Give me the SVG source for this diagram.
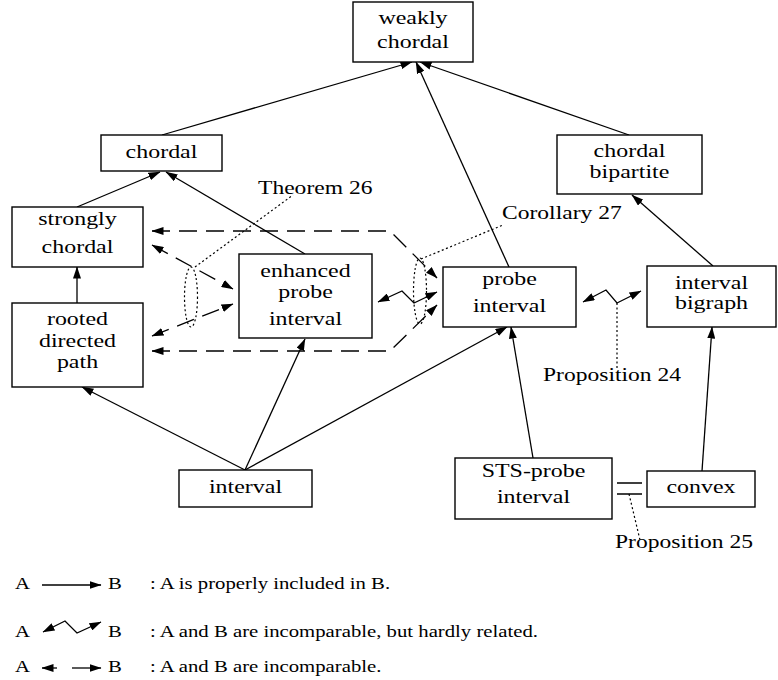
<svg xmlns="http://www.w3.org/2000/svg" width="778" height="680" viewBox="0 0 778 680">
<style>
  .box { fill: #fff; stroke: #000; stroke-width: 1.4; }
  .t { font-family: 'Liberation Serif', 'DejaVu Serif', serif; font-size: 19px; fill: #000; }
  .c { text-anchor: middle; }
  .lg { font-family: 'Liberation Serif', 'DejaVu Serif', serif; font-size: 17px; fill: #000; }
  .e { fill: none; stroke: #000; stroke-width: 1.3; }
  .arr { marker-end: url(#ah); }
  .both { marker-start: url(#ah); marker-end: url(#ah); }
  .dash { stroke-dasharray: 18 9; }
  .dot { fill: none; stroke: #000; stroke-width: 1.2; stroke-dasharray: 2 2.5; }
</style>
<defs>
  <marker id="ah" viewBox="0 0 12 8" refX="11.5" refY="4" markerWidth="12" markerHeight="8" markerUnits="userSpaceOnUse" orient="auto-start-reverse">
    <path d="M0,0 L12,4 L0,8 z" fill="#000"/>
  </marker>
</defs>
<rect width="778" height="680" fill="#fff"/>

<g id="connectors">
  <path class="e arr" d="M162,135 L412,62"/>
  <path class="e arr" d="M509,267 L416,62"/>
  <path class="e arr" d="M629,135 L420,62"/>
  <path class="e arr" d="M77,207 L160,172"/>
  <path class="e arr" d="M305,254 L166,172"/>
  <path class="e arr" d="M77,303 L77,267"/>
  <path class="e arr" d="M245,470 L82,387"/>
  <path class="e arr" d="M245,470 L305,339"/>
  <path class="e arr" d="M245,470 L507,327"/>
  <path class="e arr" d="M533,458 L511,327"/>
  <path class="e arr" d="M702,471 L712,327"/>
  <path class="e arr" d="M713,266 L632,195"/>
  <path class="e both dash" d="M152,231 L390,231 L437,278"/>
  <path class="e both dash" d="M152,351 L390,351 L437,305"/>
  <path class="e both dash" d="M152,245 L233,289"/>
  <path class="e both dash" d="M152,336 L233,304"/>
  <path class="e both" d="M378,302 L402,291 L414,303 L437,292"/>
  <path class="e both" d="M583,302 L606,290 L617,303 L641,291"/>
  <path class="e" d="M617,483 L642,483 M617,494 L642,494"/>
  <path class="dot" d="M195,267 L293,195"/>
  <ellipse class="dot" cx="191" cy="297" rx="6.5" ry="30"/>
  <path class="dot" d="M421,259 L503,225"/>
  <ellipse class="dot" cx="420" cy="291" rx="6.5" ry="33"/>
  <path class="dot" d="M617,303 L617,368"/>
  <path class="dot" d="M629,494 L640,540"/>
</g>

<g id="weakly-chordal">
  <rect class="box" x="353" y="2" width="120" height="60"/>
  <text class="t c" transform="translate(413,24) scale(1.26,1)">weakly</text>
  <text class="t c" transform="translate(413,48) scale(1.26,1)">chordal</text>
</g>
<g id="chordal">
  <rect class="box" x="101" y="135" width="121" height="36"/>
  <text class="t c" transform="translate(161.5,158) scale(1.26,1)">chordal</text>
</g>
<g id="chordal-bipartite">
  <rect class="box" x="557" y="135" width="145" height="59"/>
  <text class="t c" transform="translate(629.5,157) scale(1.26,1)">chordal</text>
  <text class="t c" transform="translate(629.5,178) scale(1.26,1)">bipartite</text>
</g>
<g id="strongly-chordal">
  <rect class="box" x="12" y="207" width="131" height="60"/>
  <text class="t c" transform="translate(77.5,225) scale(1.26,1)">strongly</text>
  <text class="t c" transform="translate(77.5,253) scale(1.26,1)">chordal</text>
</g>
<g id="rooted-directed-path">
  <rect class="box" x="12" y="303" width="131" height="84"/>
  <text class="t c" transform="translate(77.5,325) scale(1.26,1)">rooted</text>
  <text class="t c" transform="translate(77.5,347) scale(1.26,1)">directed</text>
  <text class="t c" transform="translate(77.5,368) scale(1.26,1)">path</text>
</g>
<g id="enhanced-probe-interval">
  <rect class="box" x="239" y="254" width="133" height="84"/>
  <text class="t c" transform="translate(305.5,277) scale(1.26,1)">enhanced</text>
  <text class="t c" transform="translate(305.5,298) scale(1.26,1)">probe</text>
  <text class="t c" transform="translate(305.5,325) scale(1.26,1)">interval</text>
</g>
<g id="probe-interval">
  <rect class="box" x="443" y="267" width="133" height="60"/>
  <text class="t c" transform="translate(509.5,285) scale(1.26,1)">probe</text>
  <text class="t c" transform="translate(509.5,312) scale(1.26,1)">interval</text>
</g>
<g id="interval-bigraph">
  <rect class="box" x="647" y="266" width="129" height="61"/>
  <text class="t c" transform="translate(711.5,289) scale(1.26,1)">interval</text>
  <text class="t c" transform="translate(711.5,309) scale(1.26,1)">bigraph</text>
</g>
<g id="interval">
  <rect class="box" x="179" y="470" width="133" height="37"/>
  <text class="t c" transform="translate(245.5,493) scale(1.26,1)">interval</text>
</g>
<g id="sts-probe-interval">
  <rect class="box" x="455" y="458" width="157" height="61"/>
  <text class="t c" transform="translate(533.5,477) scale(1.26,1)">STS-probe</text>
  <text class="t c" transform="translate(533.5,503) scale(1.26,1)">interval</text>
</g>
<g id="convex">
  <rect class="box" x="647" y="471" width="108" height="36"/>
  <text class="t c" transform="translate(701,493) scale(1.26,1)">convex</text>
</g>

<g id="annotations">
  <text class="t" transform="translate(258,194) scale(1.24,1)">Theorem 26</text>
  <text class="t" transform="translate(502,219) scale(1.24,1)">Corollary 27</text>
  <text class="t" transform="translate(543,381) scale(1.24,1)">Proposition 24</text>
  <text class="t" transform="translate(615,548) scale(1.24,1)">Proposition 25</text>
</g>

<g id="legend">
  <text class="lg" transform="translate(15,589) scale(1.22,1)">A</text>
  <path class="e arr" d="M42,585 L101,585"/>
  <text class="lg" transform="translate(108,589) scale(1.22,1)">B</text>
  <text class="lg" transform="translate(150,589) scale(1.22,1)">: A is properly included in B.</text>

  <text class="lg" transform="translate(15,637) scale(1.22,1)">A</text>
  <path class="e both" d="M43,632 L65,621 L77,633 L101,622"/>
  <text class="lg" transform="translate(108,637) scale(1.22,1)">B</text>
  <text class="lg" transform="translate(150,637) scale(1.22,1)">: A and B are incomparable, but hardly related.</text>

  <text class="lg" transform="translate(15,672) scale(1.22,1)">A</text>
  <path class="e arr" d="M57,668 L42,668"/>
  <path class="e arr" d="M72,668 L101,668"/>
  <text class="lg" transform="translate(108,672) scale(1.22,1)">B</text>
  <text class="lg" transform="translate(150,672) scale(1.22,1)">: A and B are incomparable.</text>
</g>
</svg>
